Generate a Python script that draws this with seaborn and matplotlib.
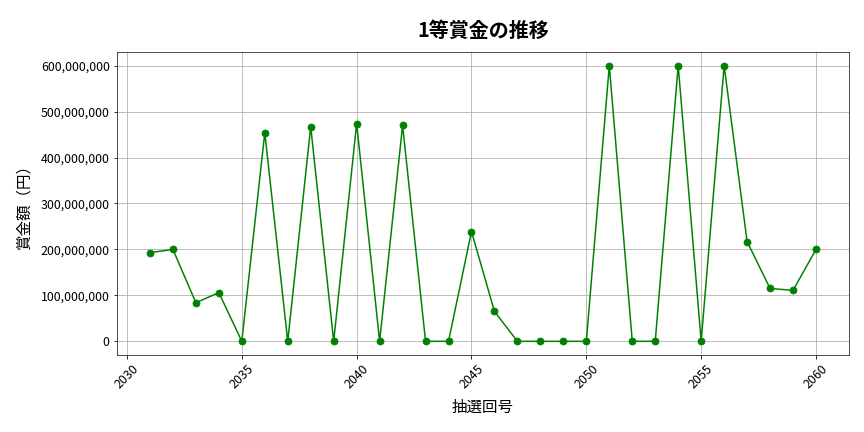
import matplotlib
matplotlib.use("Agg")
import matplotlib.pyplot as plt
import matplotlib.ticker as mticker
import seaborn as sns
import pandas as pd

draws = list(range(2031, 2061))
prizes = [193e6, 200e6, 84e6, 106e6, 0, 454e6, 0, 467e6, 0, 474e6,
          0, 470e6, 0, 0, 239e6, 65e6, 0, 0, 0, 0,
          600e6, 0, 0, 600e6, 0, 600e6, 217e6, 115e6, 111e6, 200e6]

title = "1等賞金の推移"
xlabel = "抽選回号"
ylabel = "賞金額（円）"

sns.set_style("ticks")
plt.rcParams['font.family'] = ['Noto Sans CJK JP', 'DejaVu Sans']
plt.rcParams['text.color'] = 'black'
plt.rcParams['axes.labelcolor'] = 'black'
plt.rcParams['xtick.color'] = 'black'
plt.rcParams['ytick.color'] = 'black'

df = pd.DataFrame({"draw": draws, "prize": prizes})

fig, ax = plt.subplots(figsize=(12, 6), dpi=72)
fig.subplots_adjust(left=0.135, right=0.983, top=0.88, bottom=0.178)

sns.lineplot(data=df, x="draw", y="prize", ax=ax, color="green",
             marker="o", markersize=7, markeredgecolor="green", linewidth=1.5)

ax.set_title(title, fontsize=20, fontweight="bold", pad=15)
ax.set_xlabel(xlabel, fontsize=15.5, labelpad=8)
ax.set_ylabel(ylabel, fontsize=15.5, labelpad=8)
ax.yaxis.set_major_formatter(mticker.FuncFormatter(lambda v, p: f"{int(v):,}"))
ax.xaxis.set_major_locator(mticker.MultipleLocator(5))
ax.tick_params(axis="x", labelrotation=45, labelsize=12.4)
ax.tick_params(axis="y", labelsize=12.4)
ax.grid(True, color="#b0b0b0", linewidth=0.8)
for s in ax.spines.values():
    s.set_color("#222222")
    s.set_visible(True)

fig.savefig("out.png", dpi=72)
